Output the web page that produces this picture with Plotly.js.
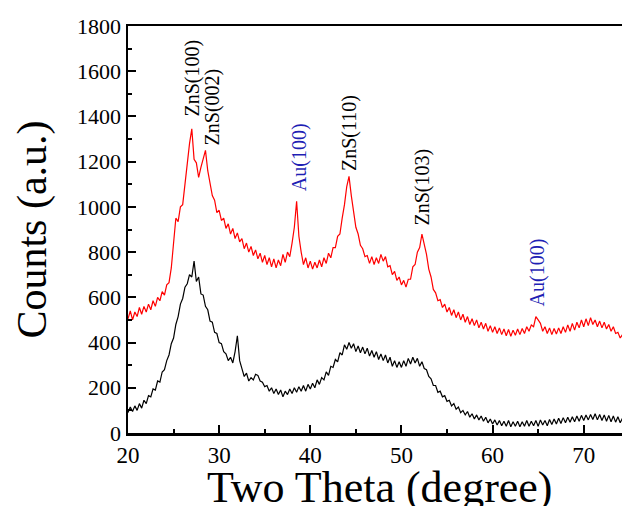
<!DOCTYPE html>
<html>
<head>
<meta charset="utf-8">
<script src="https://cdn.plot.ly/plotly-3.0.1.min.js"></script>
<style>html,body{margin:0;padding:0;background:#fff;}#chart{width:622px;height:506px;}</style>
</head>
<body>
<div id="chart"></div>
<script>
// 2θ sampling positions (degree)
const twoTheta = [
  20.00,20.25,20.50,20.75,21.00,21.25,21.50,21.75,
  22.00,22.25,22.50,22.75,23.00,23.25,23.50,23.75,
  24.00,24.25,24.50,24.75,25.00,25.25,25.50,25.75,
  26.00,26.25,26.50,26.75,27.00,27.25,27.50,27.75,
  28.00,28.25,28.50,28.75,29.00,29.25,29.50,29.75,
  30.00,30.25,30.50,30.75,31.00,31.25,31.50,31.75,
  32.00,32.25,32.50,32.75,33.00,33.25,33.50,33.75,
  34.00,34.25,34.50,34.75,35.00,35.25,35.50,35.75,
  36.00,36.25,36.50,36.75,37.00,37.25,37.50,37.75,
  38.00,38.25,38.50,38.75,39.00,39.25,39.50,39.75,
  40.00,40.25,40.50,40.75,41.00,41.25,41.50,41.75,
  42.00,42.25,42.50,42.75,43.00,43.25,43.50,43.75,
  44.00,44.25,44.50,44.75,45.00,45.25,45.50,45.75,
  46.00,46.25,46.50,46.75,47.00,47.25,47.50,47.75,
  48.00,48.25,48.50,48.75,49.00,49.25,49.50,49.75,
  50.00,50.25,50.50,50.75,51.00,51.25,51.50,51.75,
  52.00,52.25,52.50,52.75,53.00,53.25,53.50,53.75,
  54.00,54.25,54.50,54.75,55.00,55.25,55.50,55.75,
  56.00,56.25,56.50,56.75,57.00,57.25,57.50,57.75,
  58.00,58.25,58.50,58.75,59.00,59.25,59.50,59.75,
  60.00,60.25,60.50,60.75,61.00,61.25,61.50,61.75,
  62.00,62.25,62.50,62.75,63.00,63.25,63.50,63.75,
  64.00,64.25,64.50,64.75,65.00,65.25,65.50,65.75,
  66.00,66.25,66.50,66.75,67.00,67.25,67.50,67.75,
  68.00,68.25,68.50,68.75,69.00,69.25,69.50,69.75,
  70.00,70.25,70.50,70.75,71.00,71.25,71.50,71.75,
  72.00,72.25,72.50,72.75,73.00,73.25,73.50,73.75,
  74.00,74.25
];

// Upper (red) pattern counts
const redCounts = [
  505,540,500,535,515,555,525,560,
  535,570,545,585,560,600,585,625,
  610,655,665,730,840,950,935,1000,
  1010,1110,1190,1280,1345,1210,1195,1130,
  1175,1215,1250,1160,1105,1050,1030,975,
  985,940,950,905,925,880,905,860,
  885,845,860,815,840,800,825,785,
  810,770,795,755,785,745,775,735,
  770,730,765,740,790,755,800,780,
  840,910,1025,870,800,745,775,730,
  760,725,755,730,765,735,775,750,
  795,775,820,820,870,880,950,1010,
  1090,1135,1050,980,910,880,830,815,
  780,785,750,780,745,775,750,790,
  760,780,735,740,700,715,675,690,
  655,675,645,680,680,735,745,800,
  820,880,840,790,725,690,635,620,
  585,590,555,570,535,555,520,545,
  510,535,500,525,490,515,480,505,
  475,500,465,490,460,485,450,475,
  445,470,440,465,435,460,430,458,
  428,455,432,460,435,462,440,470,
  450,478,470,515,500,485,450,470,
  440,465,435,462,438,465,440,470,
  445,478,450,485,455,490,465,500,
  470,505,475,510,480,500,470,495,
  465,490,460,480,450,470,440,445,
  420,435
];

// Lower (black) pattern counts
const blackCounts = [
  90,115,95,120,100,130,110,145,
  130,165,160,195,190,230,225,270,
  280,320,345,395,420,480,515,570,
  595,645,660,700,690,760,670,690,
  615,610,560,545,495,490,445,440,
  400,395,360,350,320,335,310,360,
  430,320,285,250,265,230,245,235,
  260,255,230,225,205,210,185,200,
  175,195,170,190,160,185,170,195,
  175,200,180,205,185,210,185,215,
  195,220,200,235,215,245,235,270,
  255,295,290,325,315,355,345,390,
  370,400,375,395,360,385,355,380,
  350,375,340,365,335,360,325,350,
  320,345,310,335,295,320,290,315,
  290,320,295,330,305,335,310,330,
  295,315,285,280,250,240,210,210,
  180,185,160,165,140,145,120,130,
  105,115,90,100,80,95,70,85,
  62,80,58,75,52,70,45,62,
  40,58,35,55,32,52,30,55,
  28,50,30,52,28,50,30,55,
  30,52,32,55,30,58,35,55,
  32,60,38,62,40,65,42,68,
  45,70,48,72,50,75,52,78,
  55,80,58,82,60,85,58,82,
  55,80,52,78,50,75,48,72,
  45,65
];

// Peak labels
const peakLabels = ["ZnS(100)", "ZnS(002)", "Au(100)", "ZnS(110)", "ZnS(103)", "Au(100)"];
const peakX      = [27.05, 29.25, 38.75, 44.3, 52.35, 64.9];
const peakY      = [1390, 1262, 1060, 1152, 910, 552];
const peakColors = ["#000000", "#000000", "#1f1fb4", "#000000", "#000000", "#1f1fb4"];

const xTitle = "Two Theta (degree)";
const yTitle = "Counts (a.u.)";

const FONT = "'Liberation Serif', 'Times New Roman', Times, serif";

const traces = [
  {x: twoTheta, y: blackCounts, type: "scatter", mode: "lines",
   line: {color: "#000000", width: 1.2}, showlegend: false},
  {x: twoTheta, y: redCounts, type: "scatter", mode: "lines",
   line: {color: "#ff0000", width: 1.2}, showlegend: false}
];

const annotations = peakLabels.map((t, i) => ({
  x: peakX[i], y: peakY[i], xref: "x", yref: "y",
  text: t, showarrow: false, textangle: -90,
  xanchor: "center", yanchor: "bottom",
  font: {family: FONT, size: 20, color: peakColors[i]}
}));
// x-axis title placed as a paper annotation so it can sit low, partly cut by the page edge like the reference
annotations.push({
  x: 0.51, y: -0.068, xref: "paper", yref: "paper",
  text: xTitle, showarrow: false, xanchor: "center", yanchor: "top",
  font: {family: FONT, size: 44, color: "#000"}
});

const layout = {
  width: 622, height: 506,
  margin: {l: 128, r: 0, t: 26, b: 73, pad: 0},
  paper_bgcolor: "#ffffff", plot_bgcolor: "#ffffff",
  font: {family: FONT, color: "#000000"},
  showlegend: false,
  xaxis: {
    range: [20, 74.2], dtick: 10, tick0: 20,
    ticks: "inside", ticklen: 8, tickwidth: 2, tickcolor: "#000",
    minor: {dtick: 5, ticks: "inside", ticklen: 4, tickwidth: 2, tickcolor: "#000"},
    showline: true, linecolor: "#000", linewidth: 2.5, mirror: true,
    showgrid: false, zeroline: false,
    tickfont: {family: FONT, size: 23, color: "#000"},
    automargin: false
  },
  yaxis: {
    range: [0, 1800], dtick: 200, tick0: 0,
    ticks: "inside", ticklen: 8, tickwidth: 2, tickcolor: "#000",
    minor: {dtick: 100, ticks: "inside", ticklen: 4, tickwidth: 2, tickcolor: "#000"},
    showline: true, linecolor: "#000", linewidth: 2.5, mirror: false,
    showgrid: false, zeroline: false,
    tickfont: {family: FONT, size: 22, color: "#000"},
    title: {text: yTitle, font: {family: FONT, size: 42, color: "#000"}, standoff: 18},
    automargin: false
  },
  annotations: annotations
};

Plotly.newPlot("chart", traces, layout, {displayModeBar: false, staticPlot: true});
</script>
</body>
</html>
